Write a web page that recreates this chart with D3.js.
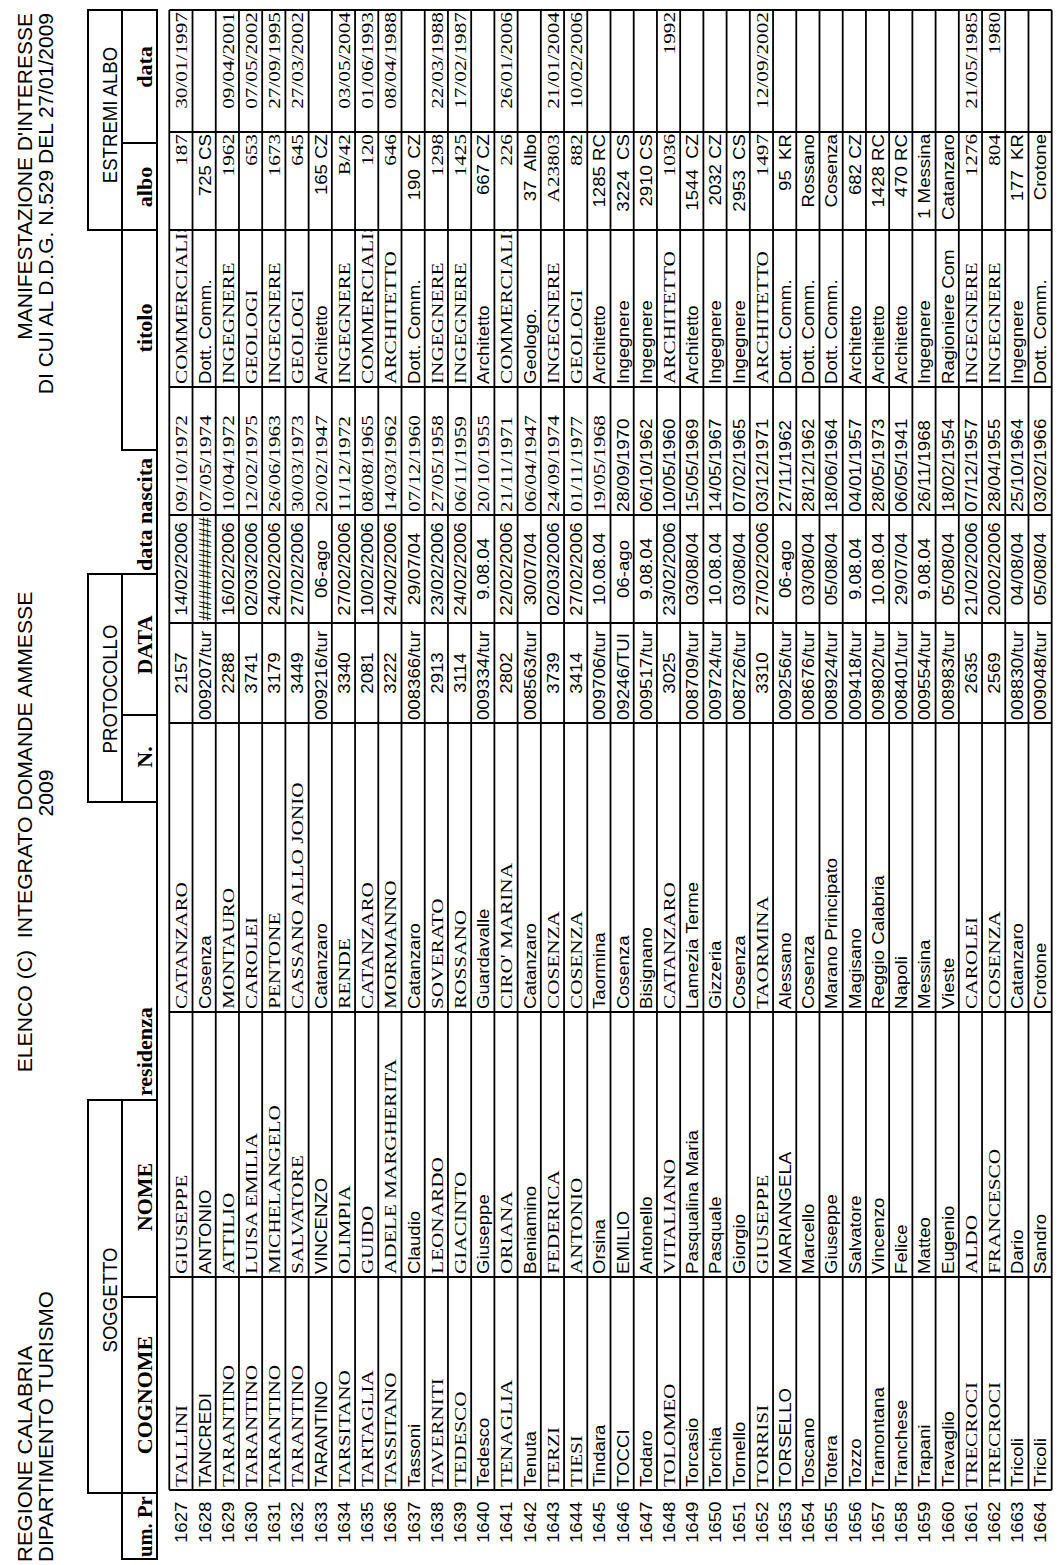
<!DOCTYPE html>
<html><head><meta charset="utf-8">
<script src="https://cdn.jsdelivr.net/npm/d3@7"></script>
<style>html,body{margin:0;padding:0;background:#fff;} svg{display:block;} text{white-space:pre;}</style>
</head><body>
<script>
// ---------- DATA ----------
const rowNums = [1627,1628,1629,1630,1631,1632,1633,1634,1635,1636,1637,1638,1639,1640,1641,1642,1643,1644,1645,1646,1647,1648,1649,1650,1651,1652,1653,1654,1655,1656,1657,1658,1659,1660,1661,1662,1663,1664];
const cognome = ["TALLINI","TANCREDI","TARANTINO","TARANTINO","TARANTINO","TARANTINO","TARANTINO","TARSITANO","TARTAGLIA","TASSITANO","Tassoni","TAVERNITI","TEDESCO","Tedesco","TENAGLIA","Tenuta","TERZI","TIESI","Tindara","TOCCI","Todaro","TOLOMEO","Torcasio","Torchia","Tornello","TORRISI","TORSELLO","Toscano","Totera","Tozzo","Tramontana","Tranchese","Trapani","Travaglio","TRECROCI","TRECROCI","Tricoli","Tricoli"];
const nome = ["GIUSEPPE","ANTONIO","ATTILIO","LUISA EMILIA","MICHELANGELO","SALVATORE","VINCENZO","OLIMPIA","GUIDO","ADELE MARGHERITA","Claudio","LEONARDO","GIACINTO","Giuseppe","ORIANA","Beniamino","FEDERICA","ANTONIO","Orsina","EMILIO","Antonello","VITALIANO","Pasqualina Maria","Pasquale","Giorgio","GIUSEPPE","MARIANGELA","Marcello","Giuseppe","Salvatore","Vincenzo","Felice","Matteo","Eugenio","ALDO","FRANCESCO","Dario","Sandro"];
const residenza = ["CATANZARO","Cosenza","MONTAURO","CAROLEI","PENTONE","CASSANO ALLO JONIO","Catanzaro","RENDE","CATANZARO","MORMANNO","Catanzaro","SOVERATO","ROSSANO","Guardavalle","CIRO' MARINA","Catanzaro","COSENZA","COSENZA","Taormina","Cosenza","Bisignano","CATANZARO","Lamezia Terme","Gizzeria","Cosenza","TAORMINA","Alessano","Cosenza","Marano Principato","Magisano","Reggio Calabria","Napoli","Messina","Vieste","CAROLEI","COSENZA","Catanzaro","Crotone"];
const protN = ["2157","009207/tur","2288","3741","3179","3449","009216/tur","3340","2081","3222","008366/tur","2913","3114","009334/tur","2802","008563/tur","3739","3414","009706/tur","09246/TUI","009517/tur","3025","008709/tur","009724/tur","008726/tur","3310","009256/tur","008676/tur","008924/tur","009418/tur","009802/tur","008401/tur","009554/tur","008983/tur","2635","2569","008830/tur","009048/tur"];
const protData = ["14/02/2006","##########","16/02/2006","02/03/2006","24/02/2006","27/02/2006","06-ago","27/02/2006","10/02/2006","24/02/2006","29/07/04","23/02/2006","24/02/2006","9.08.04","22/02/2006","30/07/04","02/03/2006","27/02/2006","10.08.04","06-ago","9.08.04","23/02/2006","03/08/04","10.08.04","03/08/04","27/02/2006","06-ago","03/08/04","05/08/04","9.08.04","10.08.04","29/07/04","9.08.04","05/08/04","21/02/2006","20/02/2006","04/08/04","05/08/04"];
const dataNascita = ["09/10/1972","07/05/1974","10/04/1972","12/02/1975","26/06/1963","30/03/1973","20/02/1947","11/12/1972","08/08/1965","14/03/1962","07/12/1960","27/05/1958","06/11/1959","20/10/1955","21/11/1971","06/04/1947","24/09/1974","01/11/1977","19/05/1968","28/09/1970","06/10/1962","10/05/1960","15/05/1969","14/05/1967","07/02/1965","03/12/1971","27/11/1962","28/12/1962","18/06/1964","04/01/1957","28/05/1973","06/05/1941","26/11/1968","18/02/1954","07/12/1957","28/04/1955","25/10/1964","03/02/1966"];
const titolo = ["COMMERCIALISTI","Dott. Comm.","INGEGNERE","GEOLOGI","INGEGNERE","GEOLOGI","Architetto","INGEGNERE","COMMERCIALISTI","ARCHITETTO","Dott. Comm.","INGEGNERE","INGEGNERE","Architetto","COMMERCIALISTI","Geologo.","INGEGNERE","GEOLOGI","Architetto","Ingegnere","Ingegnere","ARCHITETTO","Architetto","Ingegnere","Ingegnere","ARCHITETTO","Dott. Comm.","Dott. Comm.","Dott. Comm.","Architetto","Architetto","Architetto","Ingegnere","Ragioniere Com","INGEGNERE","INGEGNERE","Ingegnere","Dott. Comm."];
const albo = ["187","725 CS","1962","653","1673","645","165 CZ","B/42","120","646","190  CZ","1298","1425","667 CZ","226","37  Albo","A23803","882","1285 RC","3224  CS","2910 CS","1036","1544  CZ","2032 CZ","2953  CS","1497","95  KR","Rossano","Cosenza","682 CZ","1428 RC","470 RC","1 Messina","Catanzaro","1276","804","177  KR","Crotone"];
const dataAlbo = ["30/01/1997","","09/04/2001","07/05/2002","27/09/1995","27/03/2002","","03/05/2004","01/06/1993","08/04/1988","","22/03/1988","17/02/1987","","26/01/2006","","21/01/2004","10/02/2006","","","","1992","","","","12/09/2002","","","","","","","","","21/05/1985","1980","",""];
const headerGroups = ["SOGGETTO","PROTOCOLLO","ESTREMI ALBO"];
const headerCols = ["um. Pr","COGNOME","NOME","residenza","N.","DATA","data nascita","titolo","albo","data"];
const titleLeft = ["REGIONE CALABRIA","DIPARTIMENTO TURISMO"];
const titleMid = ["ELENCO (C)  INTEGRATO DOMANDE AMMESSE","2009"];
const titleRight = ["MANIFESTAZIONE D'INTERESSE","DI CUI AL D.D.G. N.529 DEL 27/01/2009"];

// ---------- DRAW ----------
const W = 1063, H = 1565;
const SERIF = "'Liberation Serif','Times New Roman',serif";
const SANS = "'Liberation Sans',Arial,sans-serif";
const svg = d3.select("body").append("svg").attr("width", W).attr("height", H);
svg.append("rect").attr("width", W).attr("height", H).attr("fill", "#fff");
// rotated frame: x' along the page bottom->top, y' along the page left->right
const g = svg.append("g").attr("transform", `translate(0,${H}) rotate(-90)`);
const defs = svg.append("defs");

const y = d3.scaleBand().domain(rowNums).range([169.3, 1051.7]).padding(0);
const rowTop = y.range()[0], rowBot = y.range()[1];

function txt(parent, s, x, yb, o) {
  return parent.append("text")
    .attr("transform", `translate(${x},${yb}) scale(${o.sx || 1},1)`)
    .attr("text-anchor", o.anchor || "start")
    .attr("font-family", o.family)
    .attr("font-size", o.size)
    .attr("font-weight", o.weight || "normal")
    .attr("fill", "#000")
    .text(s);
}
const serifBody = {family: SERIF, size: 17, sx: 1.25};
const sansBody = {family: SANS, size: 16.5, sx: 1.13};
const isTimesRow = i => /^\d+$/.test(protN[i]);

const columns = [
  {data: cognome,     x0: 75,   x1: 288,  align: "start",  font: i => isTimesRow(i)},
  {data: nome,        x0: 288,  x1: 553,  align: "start",  font: i => isTimesRow(i)},
  {data: residenza,   x0: 553,  x1: 842,  align: "start",  font: i => isTimesRow(i)},
  {data: protN,       x0: 842,  x1: 942,  align: "numcenter", font: i => false},
  {data: protData,    x0: 942,  x1: 1050, align: "middle", font: i => false},
  {data: dataNascita, x0: 1050, x1: 1178, align: "start",  font: i => i < 19},
  {data: titolo,      x0: 1178, x1: 1335, align: "start",  font: i => isTimesRow(i)},
  {data: albo,        x0: 1335, x1: 1433, align: "end",    font: i => isTimesRow(i)},
  {data: dataAlbo,    x0: 1433, x1: 1555, align: "end",    font: i => isTimesRow(i)}
];

columns.forEach((c, ci) => {
  const id = "clipc" + ci;
  defs.append("clipPath").attr("id", id).append("rect")
    .attr("x", c.x0 + 1).attr("y", rowTop).attr("width", c.x1 - c.x0 - 2).attr("height", rowBot - rowTop);
  const cg = g.append("g").attr("clip-path", `url(#${id})`);
  rowNums.forEach((r, i) => {
    const s = c.data[i];
    if (!s) return;
    const f = c.font(i) ? serifBody : sansBody;
    let x, anchor;
    if (c.align === "start") { x = c.x0 + 3; anchor = "start"; }
    else if (c.align === "end") { x = c.x1 - 2; anchor = "end"; }
    else if (c.align === "middle") { x = (c.x0 + c.x1) / 2; anchor = "middle"; }
    else { if (/^\d+$/.test(s)) { x = (c.x0 + c.x1) / 2; anchor = "middle"; } else { x = c.x0 + 3; anchor = "start"; } }
    txt(cg, s, x, y(r) + 18, Object.assign({}, f, {anchor}));
  });
});

// row numbers (outside the grid)
rowNums.forEach(r => txt(g, String(r), 22, y(r) + 18, sansBody));

// body grid
const colEdges = [75, 288, 553, 842, 942, 1050, 1178, 1335, 1433, 1555];
g.append("g").selectAll("line").data(colEdges).join("line")
  .attr("x1", d => d).attr("x2", d => d).attr("y1", rowTop).attr("y2", rowBot)
  .attr("stroke", "#000").attr("stroke-width", 2);
const rowEdges = rowNums.map(r => y(r)).concat([rowBot]);
g.append("g").selectAll("line").data(rowEdges).join("line")
  .attr("x1", 75).attr("x2", 1555).attr("y1", d => d).attr("y2", d => d)
  .attr("stroke", "#000").attr("stroke-width", 1.8);

// header lines
const hSeg = [
  [72, 465, 88], [763, 991, 88], [1335, 1555, 88],
  [6, 465, 122], [763, 991, 122], [1115, 1555, 122],
  [6, 1555, 157]
];
g.append("g").selectAll("line").data(hSeg).join("line")
  .attr("x1", d => d[0]).attr("x2", d => d[1]).attr("y1", d => d[2]).attr("y2", d => d[2])
  .attr("stroke", "#000").attr("stroke-width", 2).attr("stroke-linecap", "square");
const vSeg = [
  [6, 122, 157], [72, 88, 157], [268, 122, 157], [465, 88, 157], [763, 88, 157],
  [850, 122, 157], [991, 88, 157], [1115, 122, 157], [1335, 88, 157], [1422, 122, 157], [1555, 88, 157]
];
g.append("g").selectAll("line").data(vSeg).join("line")
  .attr("x1", d => d[0]).attr("x2", d => d[0]).attr("y1", d => d[1]).attr("y2", d => d[2])
  .attr("stroke", "#000").attr("stroke-width", 2).attr("stroke-linecap", "square");

// group header texts
const grpFont = {family: SANS, size: 20, sx: 0.93, anchor: "middle"};
[265, 876, 1450].forEach((cx, i) => txt(g, headerGroups[i], cx, 117, grpFont));

// column header texts
const hdFont = {family: SERIF, size: 20, sx: 1.1, weight: "bold"};
txt(g, headerCols[0], 8, 152, Object.assign({}, hdFont, {sx: 1.03}));
const hdPos = [
  [170, "middle"], [368, "middle"], [469, "start"], [808, "middle"], [920, "middle"],
  [994, "start"], [1237, "middle"], [1378, "middle"], [1498, "middle"]
];
hdPos.forEach((p, i) => txt(g, headerCols[i + 1], p[0], 152, Object.assign({}, hdFont, {anchor: p[1]})));

// titles
const tFont = {family: SANS, size: 20};
titleLeft.forEach((s, i) => txt(g, s, 3, 32 + i * 21, Object.assign({}, tFont, {sx: 1.1})));
txt(g, titleMid[0], 733, 32, Object.assign({}, tFont, {sx: 1.06, anchor: "middle"}));
txt(g, titleMid[1], 772, 53, Object.assign({}, tFont, {sx: 1.06, anchor: "middle"}));
titleRight.forEach((s, i) => txt(g, s, 1552, 32 + i * 21, Object.assign({}, tFont, {sx: 1.05, anchor: "end"})));
</script>
</body></html>
